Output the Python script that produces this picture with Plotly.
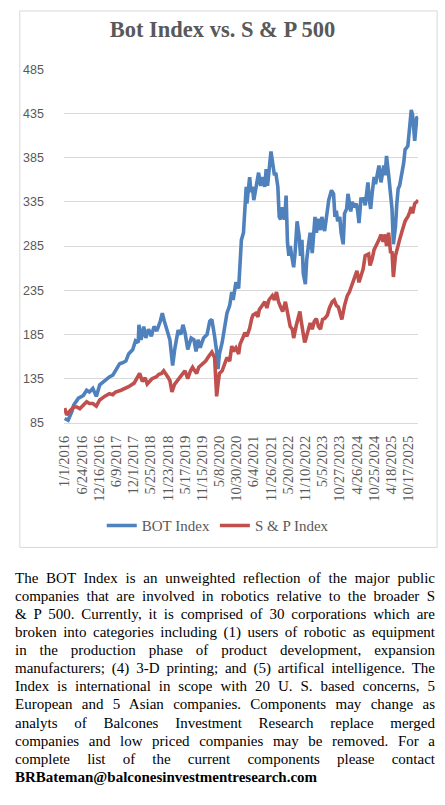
import plotly.graph_objects as go

# ---------------- data ----------------
tick_labels = ["1/1/2016", "6/24/2016", "12/16/2016", "6/9/2017", "12/1/2017", "5/25/2018",
               "11/23/2018", "5/17/2019", "11/15/2019", "5/8/2020", "10/30/2020", "6/4/2021",
               "11/26/2021", "5/20/2022", "11/10/2022", "5/5/2023", "10/27/2023", "4/26/2024",
               "10/25/2024", "4/18/2025", "10/17/2025"]
tick_weeks = [0, 25, 50, 75, 100, 125, 150, 175, 200, 225, 250, 275, 300, 325, 350, 375, 400, 425,
              450, 475, 500]
y_ticks = [85, 135, 185, 235, 285, 335, 385, 435, 485]

bot_week = [0, 5, 11, 13, 20, 27, 32, 36, 41, 46, 51, 58, 65, 70, 74, 80, 84, 89, 93, 99,
            103, 107, 108, 111, 115, 118, 122, 126, 130, 134, 139, 142, 145, 150, 153, 157, 160, 165, 169, 172,
            175, 179, 184, 188, 191, 194, 197, 202, 207, 211, 214, 218, 221, 223, 225, 229, 233, 236, 240, 243,
            245, 249, 253, 255, 257, 260, 262, 264, 265, 269, 271, 273, 275, 279, 282, 285, 288, 291, 293, 295,
            297, 300, 303, 305, 307, 310, 312, 314, 316, 320, 322, 324, 326, 328, 331, 333, 335, 338, 341, 343,
            345, 347, 350, 352, 355, 357, 360, 362, 364, 366, 369, 372, 374, 378, 381, 384, 388, 391, 393, 395,
            397, 400, 402, 405, 407, 410, 412, 414, 416, 418, 421, 424, 426, 428, 431, 433, 435, 437, 441, 443,
            445, 447, 450, 452, 454, 457, 460, 462, 464, 466, 468, 471, 474, 476, 478, 481, 483, 485, 487, 491,
            493, 495, 497, 499, 502, 504, 506, 509, 512, 514]
bot_index = [90, 88, 99, 105, 113, 116, 122, 120, 124, 115, 128, 133, 137, 139, 144, 152, 153, 155, 163, 168,
             178, 176, 196, 179, 194, 181, 191, 183, 194, 189, 200, 209, 200, 185, 179, 150, 168, 190, 185, 196,
             187, 168, 181, 179, 166, 179, 170, 181, 185, 200, 202, 183, 166, 146, 163, 176, 196, 209, 218, 233,
             224, 244, 237, 263, 292, 300, 331, 352, 333, 363, 346, 352, 337, 357, 368, 353, 363, 352, 372, 353,
             370, 392, 376, 365, 368, 352, 318, 315, 329, 315, 342, 289, 274, 285, 270, 261, 277, 313, 296, 274,
             292, 254, 242, 270, 289, 300, 277, 300, 318, 300, 316, 303, 318, 302, 322, 337, 348, 344, 318, 325,
             313, 318, 300, 287, 322, 327, 344, 333, 324, 335, 329, 333, 325, 311, 340, 335, 340, 331, 357, 337,
             327, 344, 363, 355, 365, 376, 357, 366, 376, 365, 387, 366, 344, 327, 287, 307, 333, 350, 353, 370,
             379, 394, 396, 398, 422, 439, 433, 404, 430, 431]

sp_week = [0, 3, 8, 13, 18, 22, 27, 32, 36, 41, 46, 51, 58, 65, 70, 74, 82, 89, 93, 101,
           105, 109, 113, 117, 120, 123, 127, 133, 137, 141, 144, 150, 153, 156, 160, 165, 169, 172, 175, 179,
           183, 186, 189, 192, 195, 201, 205, 210, 214, 218, 221, 223, 225, 229, 233, 236, 240, 243, 245, 249,
           253, 255, 259, 262, 265, 269, 272, 274, 278, 281, 283, 288, 291, 294, 297, 302, 305, 308, 311, 314,
           317, 321, 324, 326, 328, 331, 333, 337, 340, 342, 344, 346, 349, 350, 354, 357, 360, 363, 366, 369,
           372, 375, 378, 382, 385, 389, 392, 395, 398, 401, 403, 407, 411, 414, 417, 421, 425, 428, 431, 434,
           437, 442, 444, 447, 450, 453, 457, 460, 463, 466, 468, 471, 474, 476, 478, 481, 483, 485, 487, 491,
           493, 495, 497, 499, 502, 504, 506, 509, 512, 514]
sp_index = [102, 94, 99, 103, 103, 101, 105, 109, 107, 107, 104, 111, 115, 118, 117, 120, 122, 124, 126, 130,
            136, 141, 132, 136, 129, 132, 135, 137, 140, 141, 144, 137, 133, 120, 129, 134, 139, 141, 144, 135,
            144, 148, 144, 141, 148, 152, 155, 161, 165, 159, 115, 129, 141, 144, 152, 159, 155, 172, 166, 170,
            163, 174, 181, 187, 183, 192, 203, 207, 209, 205, 213, 218, 222, 215, 224, 229, 224, 233, 222, 216,
            211, 222, 211, 200, 194, 191, 181, 196, 205, 211, 200, 189, 176, 178, 192, 198, 191, 200, 203, 194,
            191, 202, 203, 207, 215, 222, 224, 218, 216, 209, 202, 218, 229, 233, 240, 250, 257, 244, 253, 259,
            274, 276, 263, 270, 281, 285, 292, 298, 290, 298, 285, 300, 277, 279, 250, 274, 281, 289, 292, 303,
            309, 313, 316, 318, 324, 329, 322, 333, 335, 337]

paragraph = [
    "The BOT Index is an unweighted reflection of the major public",
    "companies that are involved in robotics relative to the broader S",
    "& P 500. Currently, it is comprised of 30 corporations which are",
    "broken into categories including (1) users of robotic as equipment",
    "in the production phase of product development, expansion",
    "manufacturers; (4) 3-D printing; and (5) artifical intelligence. The",
    "Index is international in scope with 20 U. S. based concerns, 5",
    "European and 5 Asian companies. Components may change as",
    "analyts of Balcones Investment Research replace merged",
    "companies and low priced companies may be removed. For a",
    "complete list of the current components please contact",
]
contact = "BRBateman@balconesinvestmentresearch.com"

# ---------------- figure ----------------
W, H = 445, 805
BLUE, RED, GRAY, GRID = "#4f81bd", "#c0504d", "#595959", "#d9d9d9"
SERIF = "Liberation Serif, Times New Roman, serif"

fig = go.Figure()
fig.add_trace(go.Scatter(x=bot_week, y=bot_index, mode="lines", name="BOT Index",
                         line=dict(color=BLUE, width=3.6)))
fig.add_trace(go.Scatter(x=sp_week, y=sp_index, mode="lines", name="S & P Index",
                         line=dict(color=RED, width=3.6)))

def py(pix):
    return 1 - pix / H

fig.update_layout(
    width=W, height=H,
    margin=dict(l=0, r=0, t=0, b=0),
    paper_bgcolor="white", plot_bgcolor="white",
    title=dict(text="Bot Index vs. S & P 500", x=0.5, xanchor="center", y=py(29), yanchor="middle",
               font=dict(family=SERIF, size=22.5, color=GRAY, weight="bold")),
    xaxis=dict(domain=[57 / W, 418 / W], range=[-1, 514.5], tickvals=tick_weeks, ticktext=tick_labels,
               tickangle=-90, showgrid=False, zeroline=False, showline=True, linecolor=GRID, linewidth=1,
               tickfont=dict(family=SERIF, size=14.5, color=GRAY), ticks="", ticklabelstandoff=6),
    yaxis=dict(domain=[py(423.3), py(63.3)], range=[85, 485], tickvals=y_ticks, showgrid=True,
               gridcolor=GRID, gridwidth=1, zeroline=False, showline=False,
               tickfont=dict(family="Liberation Sans, Arial, sans-serif", size=12.5, color=GRAY),
               ticks="", ticklabelstandoff=19),
    legend=dict(orientation="h", x=0.48, xanchor="center", y=py(528), yanchor="middle",
                font=dict(family=SERIF, size=15, color=GRAY), bgcolor="rgba(0,0,0,0)"),
    showlegend=True,
)

# chart border
fig.add_shape(type="rect", xref="paper", yref="paper", x0=12 / W, x1=437 / W, y0=py(550), y1=py(4),
              line=dict(color=GRID, width=1), fillcolor="rgba(0,0,0,0)", layer="below")

# paragraph text (one annotation per line)
for i, line in enumerate(paragraph + [contact]):
    is_last = i == len(paragraph)
    fig.add_annotation(text=("<b>%s</b>" % line) if is_last else line, xref="paper", yref="paper",
                       x=5 / W, y=py(581 + 18.4 * i), xanchor="left", yanchor="middle", align="left",
                       showarrow=False, font=dict(family=SERIF, size=15, color="black"))

post = """
(function(){
  var NJ = %d, TW = %d;
  document.querySelectorAll('g.annotation').forEach(function(g){
    var i = +g.getAttribute('data-index');
    if (isNaN(i) || i >= NJ) return;
    var t = g.querySelector('text.annotation-text');
    if (!t) return;
    var s = t.textContent;
    var n = (s.match(/ /g) || []).length;
    var L = t.getComputedTextLength();
    if (n > 0) t.style.wordSpacing = ((TW - L) / n) + 'px';
  });
})();
""" % (len(paragraph), 420)

fig.write_html("out.html", post_script=post)
